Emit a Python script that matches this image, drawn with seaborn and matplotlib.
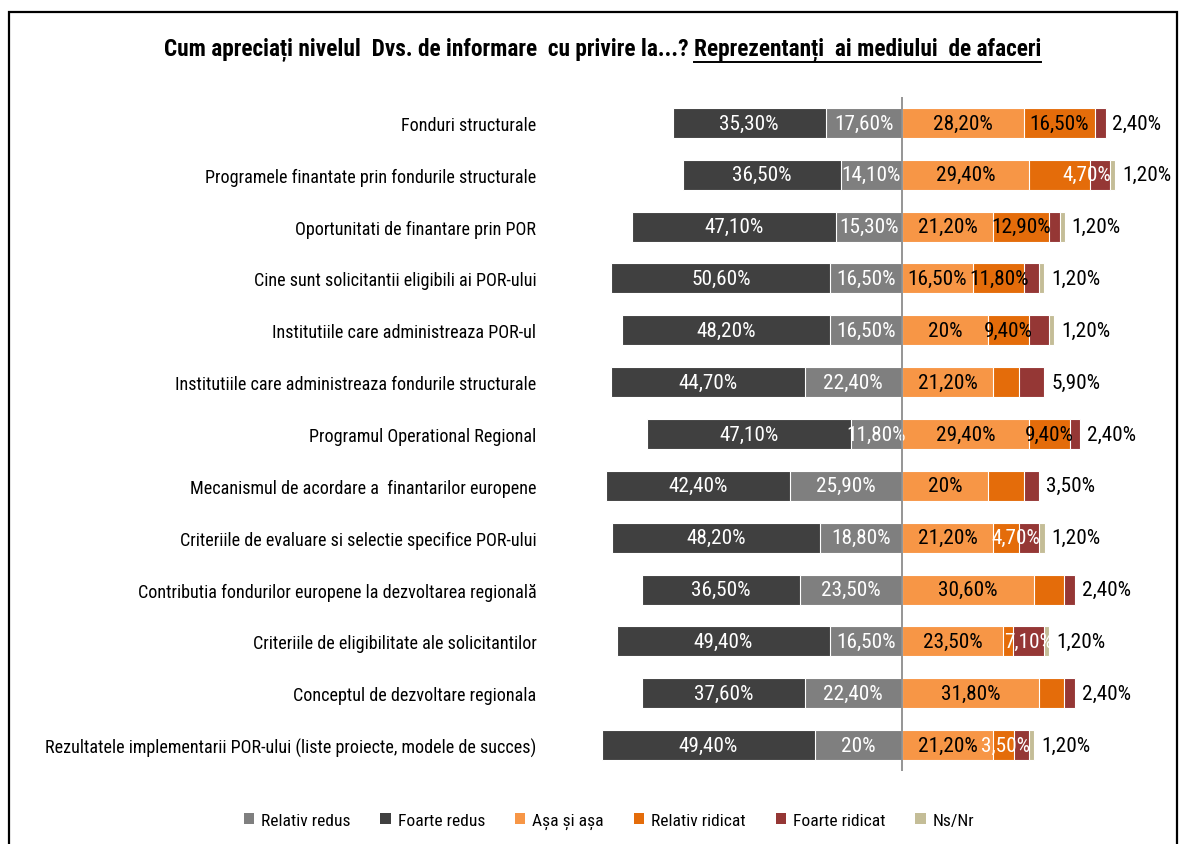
import matplotlib
matplotlib.use("Agg")
import matplotlib.pyplot as plt
from matplotlib import font_manager as fm
from matplotlib.patches import Patch, Rectangle
from matplotlib.lines import Line2D
import numpy as np
import pandas as pd
import seaborn as sns

categories = [
    "Fonduri structurale",
    "Programele finantate prin fondurile structurale",
    "Oportunitati de finantare prin POR",
    "Cine sunt solicitantii eligibili ai POR-ului",
    "Institutiile care administreaza POR-ul",
    "Institutiile care administreaza fondurile structurale",
    "Programul Operational Regional",
    "Mecanismul de acordare a  finantarilor europene",
    "Criteriile de evaluare si selectie specifice POR-ului",
    "Contributia fondurilor europene la dezvoltarea regională",
    "Criteriile de eligibilitate ale solicitantilor",
    "Conceptul de dezvoltare regionala",
    "Rezultatele implementarii POR-ului (liste proiecte, modele de succes)",
]
foarte_redus = [35.3, 36.5, 47.1, 50.6, 48.2, 44.7, 47.1, 42.4, 48.2, 36.5, 49.4, 37.6, 49.4]
relativ_redus = [17.6, 14.1, 15.3, 16.5, 16.5, 22.4, 11.8, 25.9, 18.8, 23.5, 16.5, 22.4, 20.0]
asa_si_asa = [28.2, 29.4, 21.2, 16.5, 20.0, 21.2, 29.4, 20.0, 21.2, 30.6, 23.5, 31.8, 21.2]
relativ_ridicat = [16.5, 14.1, 12.9, 11.8, 9.4, 5.8, 9.4, 8.2, 5.9, 7.0, 2.3, 5.8, 4.7]
foarte_ridicat = [2.4, 4.7, 2.4, 3.4, 4.7, 5.9, 2.4, 3.5, 4.7, 2.4, 7.1, 2.4, 3.5]
ns_nr = [0, 1.2, 1.2, 1.2, 1.2, 0, 0, 0, 1.2, 0, 1.2, 0, 1.2]
# which of the small segments carry a label inside the bar
show_relativ_ridicat = [1, 0, 1, 1, 1, 0, 1, 0, 0, 0, 0, 0, 0]
show_foarte_ridicat = [0, 1, 0, 0, 0, 0, 0, 0, 1, 0, 1, 0, 1]

legend_names = ["Relativ redus", "Foarte redus", "Așa și așa", "Relativ ridicat", "Foarte ridicat", "Ns/Nr"]
colors = {"Relativ redus": "#7f7f7f", "Foarte redus": "#404040", "Așa și așa": "#f79646",
          "Relativ ridicat": "#e46c0a", "Foarte ridicat": "#953735", "Ns/Nr": "#c4bd97"}

# pick a narrow font if one is installed
names = {f.name for f in fm.fontManager.ttflist}
FONT, k = "DejaVu Sans", 0.75
for cand, kk in [("Liberation Sans Narrow", 1.0), ("DejaVu Sans Condensed", 0.83), ("Roboto Condensed", 0.9)]:
    if cand in names:
        FONT, k = cand, kk
        break
plt.rcParams["font.family"] = [FONT, "DejaVu Sans"]

df = pd.DataFrame({"cat": categories, "fr": foarte_redus, "rr": relativ_redus, "as": asa_si_asa,
                   "rrid": relativ_ridicat, "frid": foarte_ridicat, "ns": ns_nr})
df["l_out"] = -(df["fr"] + df["rr"])
df["l_in"] = -df["rr"]
df["r1"] = df["as"]
df["r2"] = df["as"] + df["rrid"]
df["r3"] = df["r2"] + df["frid"]
df["r4"] = df["r3"] + df["ns"]

fig = plt.figure(figsize=(11.79, 8.45), dpi=100)
ax = fig.add_axes([560 / 1179, 1 - 772 / 845, 610 / 1179, 674 / 845])

layers = [("l_out", "Foarte redus"), ("l_in", "Relativ redus"), ("r4", "Ns/Nr"),
          ("r3", "Foarte ridicat"), ("r2", "Relativ ridicat"), ("r1", "Așa și așa")]
for col, name in layers:
    sns.barplot(data=df, x=col, y="cat", order=categories, color=colors[name], saturation=1,
                width=0.58, errorbar=None, edgecolor="white", linewidth=0.8, ax=ax)

ax.axvline(0, color="#8c8c8c", lw=1.3, zorder=5)
ax.set_xlim(-79, 62)
ax.set_ylim(12.5, -0.5)
for s in ax.spines.values():
    s.set_visible(False)
ax.set_xticks([])
ax.set_xlabel("")
ax.set_ylabel("")
ax.tick_params(axis="y", length=0, pad=17, labelsize=14.5 * k)


def fmt(v):
    if abs(v - round(v)) < 1e-9:
        return f"{int(round(v))}%"
    return f"{v:.2f}".replace(".", ",") + "%"


vs = 17 * k
for i, r in df.iterrows():
    ax.text(-r["rr"] - r["fr"] / 2, i, fmt(r["fr"]), color="white", ha="center", va="center", fontsize=vs)
    ax.text(-r["rr"] / 2, i, fmt(r["rr"]), color="white", ha="center", va="center", fontsize=vs)
    ax.text(r["as"] / 2, i, fmt(r["as"]), color="black", ha="center", va="center", fontsize=vs)
    if show_relativ_ridicat[i]:
        ax.text(r["as"] + r["rrid"] / 2, i, fmt(r["rrid"]), color="black", ha="center", va="center", fontsize=vs)
    if show_foarte_ridicat[i]:
        if r["frid"] < 6:
            ax.text(r["r3"] + 0.3, i, fmt(r["frid"]), color="white", ha="right", va="center", fontsize=vs)
        else:
            ax.text(r["r2"] + r["frid"] / 2, i, fmt(r["frid"]), color="white", ha="center", va="center", fontsize=vs)
    out = r["ns"] if r["ns"] > 0 else r["frid"]
    ax.text(r["r4"] + 1.6, i, fmt(out), color="black", ha="left", va="center", fontsize=vs)

# title, second half underlined
ty = 1 - 50 / 845
t1 = fig.text(694 / 1179, ty, "Cum apreciați nivelul  Dvs. de informare  cu privire la...? ",
              ha="right", va="center", fontsize=18.6 * k, fontweight="bold")
t2 = fig.text(694 / 1179, ty, "Reprezentanți  ai mediului  de afaceri",
              ha="left", va="center", fontsize=18.6 * k, fontweight="bold")
fig.canvas.draw()
bb = t2.get_window_extent(fig.canvas.get_renderer())
uy = (bb.y0 - 1) / fig.bbox.height
fig.add_artist(Line2D([bb.x0 / fig.bbox.width, bb.x1 / fig.bbox.width], [uy, uy],
                      transform=fig.transFigure, color="black", lw=1.4))

handles = [Patch(facecolor=colors[n], edgecolor="none", label=n) for n in legend_names]
fig.legend(handles=handles, loc="center", bbox_to_anchor=(609 / 1179, 1 - 822 / 845), ncol=6,
           frameon=False, fontsize=14 * k, handlelength=0.6, handleheight=0.6,
           handletextpad=0.4, columnspacing=1.7)

fig.add_artist(Rectangle((9 / 1179, -0.05), 1168 / 1179, 1.05 - 13 / 845, transform=fig.transFigure,
                         fill=False, edgecolor="black", lw=1.6, clip_on=False))

fig.savefig("out.png", dpi=100)
